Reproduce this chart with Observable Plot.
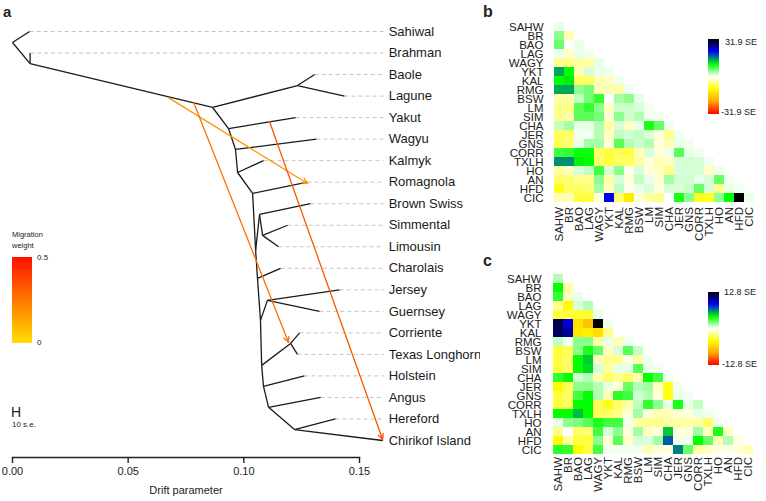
<!DOCTYPE html>
<html><head><meta charset="utf-8">
<script src="https://cdn.jsdelivr.net/npm/d3@7"></script>
<script src="https://cdn.jsdelivr.net/npm/@observablehq/plot@0.6"></script>
<style>
body{margin:0;background:#fff;font-family:"Liberation Sans",Arial,sans-serif;}
#wrap{position:relative;width:766px;height:501px;overflow:hidden;background:#fff;}
#wrap svg{position:absolute;background:transparent;}
.abs{position:absolute;white-space:nowrap;line-height:1;color:#222;}
.bar{position:absolute;}
</style></head><body><div id="wrap"></div>
<script>
// ---------- tree data ----------
const leaves = ["Sahiwal","Brahman","Baole","Lagune","Yakut","Wagyu","Kalmyk","Romagnola","Brown Swiss","Simmental","Limousin","Charolais","Jersey","Guernsey","Corriente","Texas Longhorn","Holstein","Angus","Hereford","Chirikof Island"];
const leafDrift = [0.0074,0.0076,0.1306,0.1435,0.1224,0.1314,0.1085,0.1275,0.1288,0.1189,0.1150,0.1159,0.1414,0.1327,0.1241,0.1232,0.1262,0.1332,0.1396,0.1600];
const nodeIds   = ["root","n1","n2","n3","n4","n5","n6","n7","n8","n9","n10","n11","n12","n13","n14","n15","n16","n17","n18"];
const nodeDrift = [0.0000,0.0076,0.0865,0.1232,0.0934,0.0964,0.0973,0.1038,0.1051,0.1068,0.1081,0.1059,0.1072,0.1102,0.1077,0.1202,0.1085,0.1107,0.1219];
const nodeRow   = [0.51,1.49,3.53,2.51,4.51,5.48,6.55,7.52,10.17,8.50,9.47,11.47,13.42,12.49,15.51,14.49,16.49,17.46,18.49];
const edgeFrom = ["root","root","n1","n1","n2","n3","n3","n2","n4","n4","n5","n5","n6","n6","n7","n7","n8","n9","n9","n10","n10","n8","n11","n11","n12","n13","n13","n12","n14","n15","n15","n14","n16","n16","n17","n17","n18","n18"];
const edgeTo   = ["Sahiwal","n1","Brahman","n2","n3","Baole","Lagune","n4","Yakut","n5","Wagyu","n6","Kalmyk","n7","Romagnola","n8","n9","Brown Swiss","n10","Simmental","Limousin","n11","Charolais","n12","n13","Jersey","Guernsey","n14","n15","Corriente","Texas Longhorn","n16","Holstein","n17","Angus","n18","Hereford","Chirikof Island"];
// migration edges
const migFromDrift = [0.0674,0.0783,0.1111];
const migFromRow   = [3.07,3.30,4.18];
const migToDrift   = [0.1275,0.1193,0.1600];
const migToRow     = [7.06,14.44,18.95];
const migWeight    = [0.18,0.27,0.34];
const driftTicks = [0,0.05,0.10,0.15];
const weightLegend = ["0.5","0"];

// ---------- residual data (fraction of colour-scale max) ----------
const codes = ["SAHW","BR","BAO","LAG","WAGY","YKT","KAL","RMG","BSW","LM","SIM","CHA","JER","GNS","CORR","TXLH","HO","AN","HFD","CIC"];
const maxB = ["31.9 SE","-31.9 SE"];
const maxC = ["12.8 SE","-12.8 SE"];
const residB = [
[0.03],
[0.15,-0.10],
[0.20,0.00,0.03],
[0.02,-0.08,0.03,0.02],
[-0.15,-0.15,-0.12,-0.12,0.03],
[0.45,0.33,-0.10,0.05,0.03,0.02],
[0.33,0.36,-0.20,-0.20,-0.10,-0.08,0.02],
[0.45,0.45,0.15,0.18,-0.10,-0.10,-0.12,0.02],
[-0.12,-0.12,0.08,0.18,0.27,0.00,0.12,0.15,0.03],
[-0.15,-0.15,0.22,0.27,0.15,-0.08,0.07,0.07,0.05,0.02],
[-0.15,-0.12,0.22,0.22,0.18,-0.06,0.15,0.07,0.10,0.02,0.02],
[0.08,0.12,0.03,0.03,0.10,-0.12,0.05,-0.08,0.03,0.30,0.20,0.02],
[-0.22,-0.20,0.02,0.02,0.10,-0.08,0.08,0.06,0.08,0.05,-0.05,-0.15,0.02],
[-0.22,-0.18,0.03,0.12,0.12,-0.05,0.22,0.10,0.07,0.10,-0.05,-0.10,0.03,0.02],
[0.25,0.27,0.32,0.32,-0.20,-0.25,-0.22,-0.25,-0.10,0.05,-0.05,0.02,0.22,0.03,0.02],
[0.48,0.48,0.35,0.33,-0.20,-0.25,-0.20,-0.20,-0.12,-0.05,-0.10,-0.08,0.05,0.06,0.05,0.02],
[-0.12,-0.08,0.05,0.08,0.25,0.05,0.15,-0.03,0.05,-0.05,-0.08,-0.15,0.05,0.05,0.05,-0.08,0.02],
[-0.20,-0.18,-0.15,-0.15,0.15,-0.12,0.05,-0.05,0.08,0.03,-0.06,0.12,0.06,0.06,0.03,0.05,0.20,0.02],
[-0.30,-0.20,-0.20,-0.18,0.12,-0.08,0.08,-0.03,0.03,0.05,-0.05,0.05,0.05,0.07,0.20,0.05,-0.15,0.03,0.02],
[-0.10,-0.10,-0.25,-0.25,-0.05,0.68,-0.20,-0.40,-0.05,-0.12,-0.15,0.00,0.30,0.15,-0.30,-0.30,0.15,0.33,1.00,0.03]
];
const residC = [
[0.10],
[0.33,-0.12],
[0.27,-0.08,0.03],
[-0.15,-0.35,0.05,0.10],
[-0.25,-0.25,-0.28,-0.25,0.03],
[0.90,0.72,-0.45,-0.55,1.00,0.02],
[0.88,0.80,-0.42,-0.38,-0.45,-0.15],
[0.08,0.02,0.15,0.15,-0.12,0.03,-0.10,0.02],
[-0.25,-0.22,0.15,0.30,0.20,-0.08,0.05,0.22,0.07],
[-0.25,-0.20,0.33,0.40,-0.08,-0.15,-0.15,-0.03,-0.12,0.02],
[-0.25,-0.20,0.33,0.38,0.05,-0.12,0.03,0.03,0.22,0.03,0.02],
[0.27,0.33,0.06,0.10,-0.10,-0.20,-0.15,-0.20,-0.10,0.33,0.25,0.02],
[-0.35,-0.22,0.15,0.15,0.10,0.03,-0.05,0.20,0.10,0.12,-0.08,-0.30,0.02],
[-0.25,-0.20,0.25,0.33,0.10,-0.10,0.28,0.25,0.06,0.10,-0.05,-0.30,0.03,0.02],
[-0.25,-0.22,0.33,0.33,-0.22,-0.30,-0.20,-0.12,0.08,0.27,0.15,0.03,0.30,0.03,0.08],
[0.33,0.33,0.42,0.33,-0.22,-0.20,-0.15,-0.05,0.12,-0.05,-0.10,-0.10,-0.05,-0.05,0.03,0.02],
[0.03,0.15,0.17,0.22,0.30,0.25,0.25,0.02,-0.12,-0.15,-0.15,-0.12,-0.12,-0.12,-0.12,-0.20,0.02],
[-0.15,0.00,-0.20,-0.18,0.25,0.05,0.15,-0.05,0.12,-0.08,-0.05,0.40,-0.05,-0.05,0.12,-0.08,0.30,-0.08],
[-0.35,-0.12,-0.25,-0.25,0.15,-0.05,0.22,-0.08,0.05,0.05,0.12,0.55,0.02,0.02,0.33,0.20,-0.10,0.10,-0.05],
[0.28,0.27,-0.35,-0.25,0.25,0.02,0.02,0.02,0.02,-0.10,-0.05,-0.05,0.50,0.20,-0.12,-0.08,-0.03,-0.03,-0.05,-0.10]
];

// ---------- build ----------
const FONT = '"Liberation Sans", Arial, sans-serif';
const wrap = document.getElementById("wrap");
function place(el, left, top){ el.style.left = left+"px"; el.style.top = top+"px"; wrap.appendChild(el); return el; }
function txt(s, left, top, size, extra){ const d=document.createElement("div"); d.className="abs"; d.textContent=s; d.style.fontSize=size+"px"; if(extra) Object.assign(d.style, extra); return place(d,left,top); }

const pos = new Map();
leaves.forEach((n,i)=>pos.set(n,{x:leafDrift[i], y:i}));
nodeIds.forEach((n,i)=>pos.set(n,{x:nodeDrift[i], y:nodeRow[i]}));
const edges = edgeFrom.map((f,i)=>({a:pos.get(f), b:pos.get(edgeTo[i])}));
const migs = migWeight.map((w,i)=>({x1:migFromDrift[i], y1:migFromRow[i], x2:migToDrift[i], y2:migToRow[i], w}));
const dashEnd = 0.1604, labelX = 0.1626;

const tree = Plot.plot({
  width: 480, height: 450,
  marginLeft: 12, marginRight: 121, marginTop: 31, marginBottom: 10,
  x: {domain: [0, 0.15], axis: null},
  y: {domain: [0, 19], reverse: true, axis: null},
  color: {type: "linear", domain: [0, 0.5], range: ["#ffe000", "#ff1000"]},
  style: {fontFamily: FONT, fontSize: "11px", background: "transparent", color: "#222"},
  marks: [
    Plot.link(leaves, {x1: (d,i)=>leafDrift[i], y1: (d,i)=>i, x2: ()=>dashEnd, y2: (d,i)=>i, stroke: "#c4c4c4", strokeWidth: 1, strokeDasharray: "4,3"}),
    Plot.link(edges, {x1: d=>d.a.x, y1: d=>d.a.y, x2: d=>d.b.x, y2: d=>d.b.y, stroke: "#1a1a1a", strokeWidth: 1.3}),
    Plot.arrow(migs, {x1: "x1", y1: "y1", x2: "x2", y2: "y2", stroke: "w", strokeWidth: 1.3, headLength: 7, headAngle: 50}),
    Plot.text(leaves, {x: ()=>labelX, y: (d,i)=>i, text: d=>d, textAnchor: "start", fontSize: 13, fill: "#1a1a1a"})
  ]
});
tree.style.left = "0px"; tree.style.top = "0px";
wrap.appendChild(tree);

// x axis as its own plot strip, same x scale
const axis = Plot.plot({
  width: 480, height: 51,
  marginLeft: 12, marginRight: 121, marginTop: 2, marginBottom: 44,
  x: {domain: [0, 0.15], axis: null},
  style: {fontFamily: FONT, fontSize: "11px", background: "transparent", color: "#222"},
  marks: [
    Plot.frame({anchor: "bottom", stroke: "#222", strokeWidth: 1.4}),
    Plot.axisX({ticks: driftTicks, tickFormat: ".2f", tickSize: 6, tickPadding: 4, stroke: "#222", strokeWidth: 1.4, fontSize: 11, label: "Drift parameter", labelAnchor: "center", labelArrow: "none", labelOffset: 36})
  ]
});
axis.style.left = "0px"; axis.style.top = "450px";
wrap.appendChild(axis);

const palette = ["#ff0000","#ffa500","#ffff00","#ffffff","#00ff00","#0000ff","#000000"];
const stops = [-1,-2/3,-1/3,0,1/3,2/3,1];
function heat(resid, top, h, mT, mB, mL){
  const cells = [];
  resid.forEach((row,i)=>row.forEach((v,j)=>cells.push({r:codes[i], c:codes[j], v})));
  const p = Plot.plot({
    width: 286, height: h,
    marginLeft: mL, marginRight: 4, marginTop: mT, marginBottom: mB,
    x: {domain: codes, padding: 0, label: null, axis: null},
    y: {domain: codes, padding: 0, label: null, axis: null},
    color: {type: "linear", domain: stops, range: palette, clamp: true},
    style: {fontFamily: FONT, fontSize: "11px", background: "transparent", color: "#222"},
    marks: [
      Plot.cell(cells, {x: "c", y: "r", fill: "v"}),
      Plot.axisX({tickRotate: -90, tickSize: 0, tickPadding: 3, fontSize: 11.5}),
      Plot.axisY({tickSize: 0, tickPadding: 2, fontSize: 11.5})
    ]
  });
  p.style.left = "480px"; p.style.top = top+"px";
  wrap.appendChild(p);
}
heat(residB, 0, 250, 20.5, 46.5, 65);
heat(residC, 250, 251, 23.5, 47.5, 63);

// colour bars
function bar(left, top, w, h, grad){ const d=document.createElement("div"); d.className="bar"; d.style.width=w+"px"; d.style.height=h+"px"; d.style.background=grad; return place(d,left,top); }
const resGrad = "linear-gradient(to top," + palette.join(",") + ")";
bar(708, 39, 11, 75, resGrad);
txt(maxB[0], 725, 38, 9);
txt(maxB[1], 721, 108, 9);
bar(708, 292, 11, 73, resGrad);
txt(maxC[0], 724, 288, 9);
txt(maxC[1], 722, 360, 9);

bar(12, 257, 20, 86, "linear-gradient(to top, #ffe000, #ff1000)");
txt("Migration", 12, 231, 7.5);
txt("weight", 12, 242, 7.5);
txt(weightLegend[0], 37, 254, 8);
txt(weightLegend[1], 37, 339, 8);
txt("H", 11, 405, 14);
txt("10 s.e.", 12, 421, 8);

txt("a", 3, 4, 15, {fontWeight: "bold"});
txt("b", 483, 4, 16, {fontWeight: "bold"});
txt("c", 483, 253, 16, {fontWeight: "bold"});
</script></body></html>
